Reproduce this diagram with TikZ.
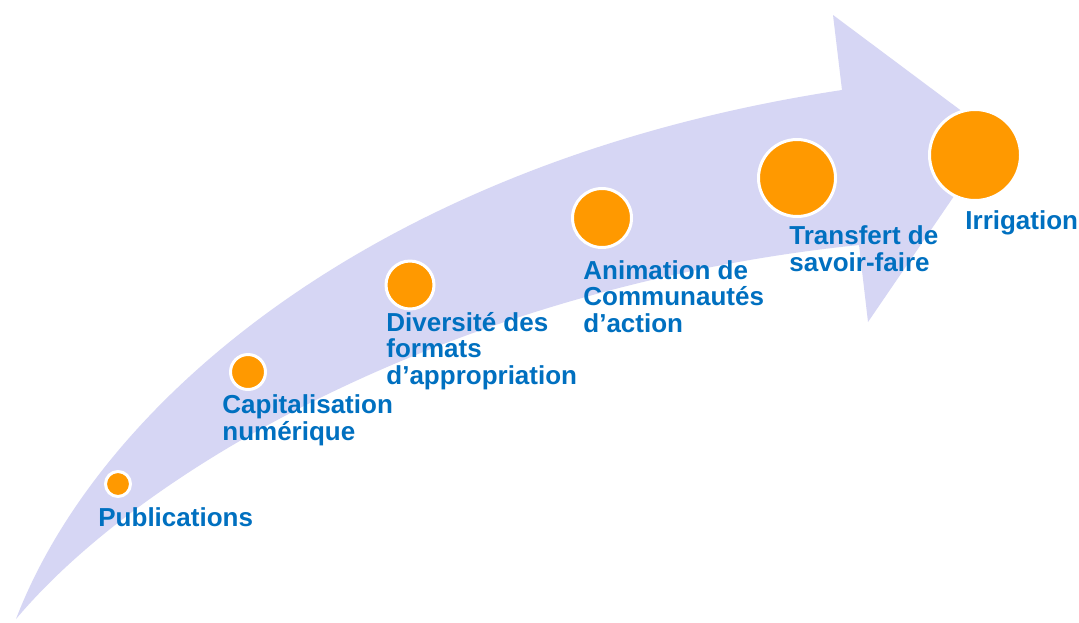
\documentclass[tikz,border=0pt]{standalone}
\usepackage{fontspec}
\setmainfont{Liberation Sans}
\definecolor{lav}{RGB}{214,214,244}
\definecolor{dotorange}{RGB}{255,153,0}
\definecolor{txtblue}{RGB}{0,112,192}
\tikzset{
  dot/.style={circle, fill=dotorange, draw=white, line width=1.5pt, inner sep=0pt},
  lbl/.style={anchor=base west, inner sep=0pt, align=left, text=txtblue,
    font=\fontsize{13}{13.2}\selectfont\bfseries}
}
\begin{document}
\begin{tikzpicture}[x=0.5pt,y=-0.5pt]
\useasboundingbox (0,0) rectangle (1079,622);
\fill[white] (0,0) rectangle (1079,622);
% curved arrow
\fill[lav] (16,619) .. controls (100,400) and (380,160) .. (842,90)
  -- (833,15) -- (995,136) -- (868,322) -- (859,245)
  .. controls (470,285) and (150,460) .. (16,619) -- cycle;
% dots
\node[dot, minimum size=12.5pt] (d1) at (118,484) {};
\node[dot, minimum size=17.5pt] (d2) at (248,372) {};
\node[dot, minimum size=24pt] (d3) at (410,285) {};
\node[dot, minimum size=29.5pt] (d4) at (602,218) {};
\node[dot, minimum size=38.5pt] (d5) at (797,178) {};
\node[dot, minimum size=45.5pt] (d6) at (975,155) {};
% labels (base = baseline of last line)
\node[lbl] (t1) at (98,526) {Publications};
\node[lbl] (t2) at (222,440) {Capitalisation\\num\'erique};
\node[lbl] (t3) at (386,384) {Diversit\'e des\\formats\\d’appropriation};
\node[lbl] (t4) at (583,332) {Animation de\\Communaut\'es\\d’action};
\node[lbl] (t5) at (789,271) {Transfert de\\savoir-faire};
\node[lbl] (t6) at (965,229) {Irrigation};
\end{tikzpicture}
\end{document}
